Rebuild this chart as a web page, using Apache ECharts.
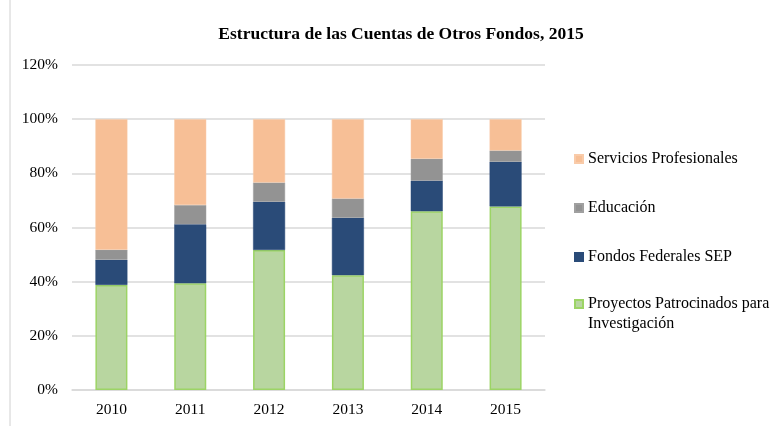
<!DOCTYPE html>
<html><head><meta charset="utf-8">
<script src="https://cdn.jsdelivr.net/npm/echarts@6/dist/echarts.min.js"></script>
<style>html,body{margin:0;padding:0;background:#fff}#c{width:777px;height:426px}</style>
</head><body><div id="c"></div>
<script>
const categories = ['2010','2011','2012','2013','2014','2015'];
const proyectos = [38.8, 39.4, 51.7, 42.4, 66.0, 67.8];
const fondosSEP = [9.3, 21.8, 17.8, 21.2, 11.3, 16.5];
const educacion = [3.7, 7.1, 7.1, 7.1, 8.1, 4.1];
const servicios = [48.2, 31.7, 23.4, 29.3, 14.6, 11.6];
const yTicks = [0, 20, 40, 60, 80, 100, 120];

const names = ['Proyectos Patrocinados para Investigación', 'Fondos Federales SEP', 'Educación', 'Servicios Profesionales'];
const colors = ['#B8D6A0', '#2A4B78', '#939393', '#F7BF96'];
const borders = ['#9CD465', '#2A4B78', '#A0A0A0', '#F9CBA9'];
const datas = [proyectos, fondosSEP, educacion, servicios];
const font = 'Liberation Serif, Times New Roman, serif';

const series = datas.map((d, i) => ({
  name: names[i], type: 'bar', stack: 'a', data: d, barWidth: 32,
  itemStyle: { color: colors[i], borderColor: borders[i], borderWidth: i === 0 ? 1.5 : 0.5 },
  emphasis: { disabled: true }
}));

const legendTops = [151, 200, 249, 274];
const legends = [3, 2, 1, 0].map((si, k) => ({
  data: [{ name: names[si], icon: 'rect' }],
  left: 574, top: legendTops[k], orient: 'vertical',
  itemWidth: 8, itemHeight: 8, padding: 0,
  selectedMode: false,
  formatter: si === 0
    ? function () { return '{s| }\n{t|Proyectos Patrocinados para}\n{t|Investigación}'; }
    : '{name}',
  textStyle: si === 0
    ? { fontFamily: font, fontSize: 16, color: '#000', lineHeight: 20,
        rich: { s: { fontSize: 16, lineHeight: 20 }, t: { fontFamily: font, fontSize: 16, color: '#000', lineHeight: 20 } } }
    : { fontFamily: font, fontSize: 16, color: '#000' }
}));

const chart = echarts.init(document.getElementById('c'));
chart.setOption({
  animation: false,
  backgroundColor: '#fff',
  title: { text: 'Estructura de las Cuentas de Otros Fondos, 2015', left: 396, top: 20, textAlign: 'center',
    textStyle: { fontFamily: font, fontSize: 17.5, fontWeight: 'bold', color: '#000' } },
  legend: legends,
  grid: { left: 72, right: 232, top: 65, bottom: 36 },
  xAxis: { type: 'category', data: categories,
    axisLine: { show: true, lineStyle: { color: '#d9d9d9', width: 1.5 } },
    axisTick: { show: false },
    axisLabel: { fontFamily: font, fontSize: 15.5, color: '#000', margin: 12 } },
  yAxis: { type: 'value', min: yTicks[0], max: yTicks[yTicks.length - 1], interval: 20,
    axisLine: { show: false }, axisTick: { show: false },
    splitLine: { lineStyle: { color: '#d9d9d9', width: 1.5 } },
    axisLabel: { fontFamily: font, fontSize: 15.5, color: '#000', margin: 14, formatter: '{value}%' } },
  graphic: [{ type: 'line', shape: { x1: 10, y1: 0, x2: 10, y2: 426 }, style: { stroke: '#d0d0d0', lineWidth: 1 } }],
  series: series
});
</script></body></html>
